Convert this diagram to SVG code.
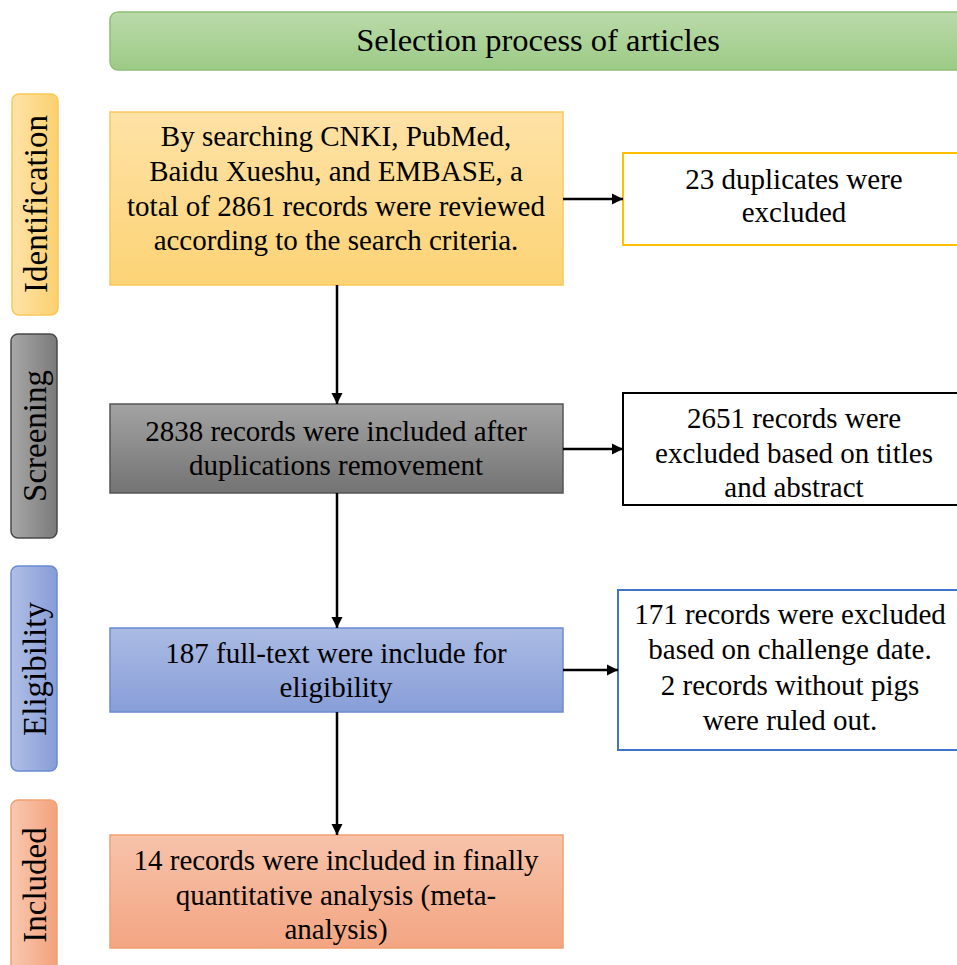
<svg xmlns="http://www.w3.org/2000/svg" width="957" height="965" viewBox="0 0 957 965">
<defs>
<linearGradient id="gGreen" x1="0" y1="0" x2="0" y2="1"><stop offset="0" stop-color="#bbdaab"/><stop offset="1" stop-color="#9ccb85"/></linearGradient>
<linearGradient id="gOrV" x1="0" y1="0" x2="0" y2="1"><stop offset="0" stop-color="#fee2a6"/><stop offset="1" stop-color="#fcd375"/></linearGradient>
<linearGradient id="gOrH" x1="0" y1="0" x2="1" y2="0"><stop offset="0" stop-color="#fee3a8"/><stop offset="1" stop-color="#fcd070"/></linearGradient>
<linearGradient id="gGrV" x1="0" y1="0" x2="0" y2="1"><stop offset="0" stop-color="#a3a3a3"/><stop offset="1" stop-color="#737373"/></linearGradient>
<linearGradient id="gGrH" x1="0" y1="0" x2="1" y2="0"><stop offset="0" stop-color="#a8a8a8"/><stop offset="1" stop-color="#7a7a7a"/></linearGradient>
<linearGradient id="gBlV" x1="0" y1="0" x2="0" y2="1"><stop offset="0" stop-color="#abbbe3"/><stop offset="1" stop-color="#889ed8"/></linearGradient>
<linearGradient id="gBlH" x1="0" y1="0" x2="1" y2="0"><stop offset="0" stop-color="#b0bfe6"/><stop offset="1" stop-color="#879dd7"/></linearGradient>
<linearGradient id="gSaV" x1="0" y1="0" x2="0" y2="1"><stop offset="0" stop-color="#f7c3aa"/><stop offset="1" stop-color="#f3a582"/></linearGradient>
<linearGradient id="gSaH" x1="0" y1="0" x2="1" y2="0"><stop offset="0" stop-color="#f8c8b0"/><stop offset="1" stop-color="#f3a27c"/></linearGradient>
<marker id="arr" viewBox="0 0 10 10" refX="10" refY="5" markerWidth="4.5" markerHeight="4.5" orient="auto" markerUnits="strokeWidth"><path d="M0,0 L10,5 L0,10 z" fill="#000"/></marker>
</defs>
<style>
text{font-size:29px;fill:#000;text-anchor:middle}
.side{font-size:33px}
.title{font-size:32.5px}
.conn{stroke:#000;stroke-width:2.5;fill:none;marker-end:url(#arr)}
</style>
<rect width="957" height="965" fill="#fff"/>
<g font-family="Liberation Serif, Times New Roman, Tinos, DejaVu Serif, serif">

<g id="title">
<rect x="110" y="12" width="862" height="58" rx="8" fill="url(#gGreen)" stroke="#8dc075" stroke-width="1.5"/>
<text class="title" x="538" y="51">Selection process of articles</text>
</g>

<g id="stage-identification">
<rect x="12" y="94" width="46" height="221" rx="7" fill="url(#gOrH)" stroke="#f9c85a" stroke-width="1.5"/>
<text class="side" transform="translate(47,204) rotate(-90)">Identification</text>
</g>
<g id="stage-screening">
<rect x="11" y="334" width="46" height="204" rx="7" fill="url(#gGrH)" stroke="#4a4a4a" stroke-width="1.5"/>
<text class="side" transform="translate(46,436) rotate(-90)">Screening</text>
</g>
<g id="stage-eligibility">
<rect x="11" y="566" width="46" height="205" rx="7" fill="url(#gBlH)" stroke="#6a8cd2" stroke-width="1.5"/>
<text class="side" transform="translate(46,669) rotate(-90)">Eligibility</text>
</g>
<g id="stage-included">
<rect x="11" y="800" width="46" height="200" rx="7" fill="url(#gSaH)" stroke="#f2a070" stroke-width="1.5"/>
<text class="side" transform="translate(46,885) rotate(-90)">Included</text>
</g>

<g id="box-search">
<rect x="110" y="112" width="453" height="173" fill="url(#gOrV)" stroke="#f9c85a" stroke-width="1.5"/>
<text x="336" y="146">By searching CNKI, PubMed,</text>
<text x="336" y="181">Baidu Xueshu, and EMBASE, a</text>
<text x="336" y="216">total of 2861 records were reviewed</text>
<text x="336" y="250">according to the search criteria.</text>
</g>
<g id="box-dup">
<rect x="623" y="153" width="350" height="92" fill="#fff" stroke="#ffc000" stroke-width="2"/>
<text x="794" y="189">23 duplicates were</text>
<text x="794" y="222">excluded</text>
</g>
<g id="box-screen">
<rect x="110" y="404" width="453" height="89" fill="url(#gGrV)" stroke="#555" stroke-width="1.5"/>
<text x="336" y="441">2838 records were included after</text>
<text x="336" y="475">duplications removement</text>
</g>
<g id="box-excl-title">
<rect x="623" y="393" width="350" height="112" fill="#fff" stroke="#000" stroke-width="2"/>
<text x="794" y="428">2651 records were</text>
<text x="794" y="463">excluded based on titles</text>
<text x="794" y="497">and abstract</text>
</g>
<g id="box-elig">
<rect x="110" y="628" width="453" height="84" fill="url(#gBlV)" stroke="#6a8cd2" stroke-width="1.5"/>
<text x="336" y="663">187 full-text were include for</text>
<text x="336" y="697">eligibility</text>
</g>
<g id="box-excl-date">
<rect x="618" y="590" width="355" height="160" fill="#fff" stroke="#4472c4" stroke-width="2"/>
<text x="790" y="624">171 records were excluded</text>
<text x="790" y="659">based on challenge date.</text>
<text x="790" y="695">2 records without pigs</text>
<text x="790" y="730">were ruled out.</text>
</g>
<g id="box-included">
<rect x="110" y="835" width="453" height="113" fill="url(#gSaV)" stroke="#f2a070" stroke-width="1.5"/>
<text x="336" y="870">14 records were included in finally</text>
<text x="336" y="905">quantitative analysis (meta-</text>
<text x="336" y="939">analysis)</text>
</g>
</g>

<g id="connectors">
<line class="conn" x1="337" y1="285" x2="337" y2="404"/>
<line class="conn" x1="337" y1="493" x2="337" y2="628"/>
<line class="conn" x1="337" y1="712" x2="337" y2="835"/>
<line class="conn" x1="563" y1="199" x2="623" y2="199"/>
<line class="conn" x1="563" y1="449" x2="623" y2="449"/>
<line class="conn" x1="563" y1="670" x2="618" y2="670"/>
</g>
</svg>
